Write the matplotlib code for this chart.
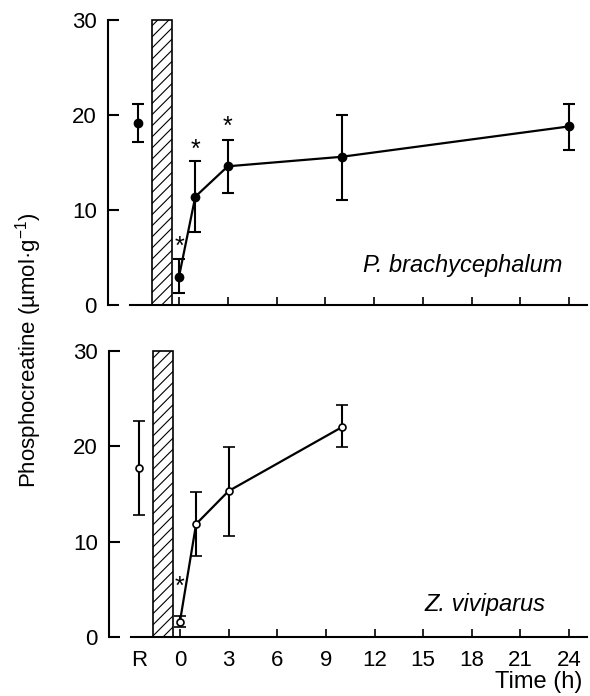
import matplotlib
matplotlib.use("Agg")
import matplotlib.pyplot as plt
import numpy as np

plt.rcParams['font.family'] = ['Liberation Sans', 'DejaVu Sans']
plt.rcParams['mathtext.fontset'] = 'custom'
plt.rcParams['mathtext.rm'] = 'Liberation Sans'
plt.rcParams['mathtext.it'] = 'Liberation Sans:italic'
plt.rcParams['hatch.linewidth'] = 0.8

# Data
R_POS = -2.5
times = [0, 1, 3, 10, 24]
tick_vals = [0, 3, 6, 9, 12, 15, 18, 21, 24]
tick_labels = ['R', '0', '3', '6', '9', '12', '15', '18', '21', '24']

pb_rest, pb_rest_lo, pb_rest_hi = 19.2, 17.2, 21.2
pb_mean = [3.0, 11.4, 14.6, 15.6, 18.8]
pb_lo = [1.3, 7.65, 11.75, 11.1, 16.35]
pb_hi = [4.8, 15.2, 17.4, 20.0, 21.2]
pb_star_t = [0, 1, 3]
pb_star_y = [6.1, 16.3, 18.8]

zv_times = [0, 1, 3, 10]
zv_rest, zv_rest_lo, zv_rest_hi = 17.75, 12.8, 22.6
zv_mean = [1.6, 11.85, 15.3, 22.0]
zv_lo = [1.05, 8.5, 10.6, 19.9]
zv_hi = [2.26, 15.2, 19.95, 24.3]
zv_star_t = [0]
zv_star_y = [5.3]

bar_x0, bar_x1 = -1.65, -0.45

fig = plt.figure(figsize=(5.9, 6.96), dpi=100)
ax1 = fig.add_axes([108/590, 1-305/696, 479/590, 285/696])
ax2 = fig.add_axes([109/590, 1-637.3/696, 478/590, 286.7/696])

def style(ax, show_labels):
    ax.set_xlim(-4.37, 25.1)
    ax.set_ylim(0, 30)
    for s in ['top', 'right']:
        ax.spines[s].set_visible(False)
    ax.spines['bottom'].set_bounds(-3, 25.1)
    ax.spines['left'].set_linewidth(1.5)
    ax.spines['bottom'].set_linewidth(1.5)
    ax.set_yticks([0, 10, 20, 30])
    ax.tick_params(axis='y', direction='in', length=8, width=1.5, labelsize=16, pad=8)
    ax.tick_params(axis='x', direction='in', length=6, width=1.2, labelsize=16, pad=9)
    if show_labels:
        ax.set_xticks([R_POS] + tick_vals)
        ax.set_xticklabels(tick_labels)
        ax.get_xticklines()[0].set_visible(False)
        ax.get_xticklines()[1].set_visible(False)
    else:
        ax.set_xticks(tick_vals)
        ax.set_xticklabels([])
    ax.add_patch(plt.Rectangle((bar_x0, 0), bar_x1-bar_x0, 30, facecolor='white',
                               edgecolor='black', hatch='///', linewidth=1.2, zorder=2,
                               clip_on=False))

style(ax1, False)
style(ax2, True)

ekw = dict(ecolor='black', elinewidth=1.5, capsize=4.5, capthick=1.5, zorder=3)

# top panel
ax1.errorbar([R_POS], [pb_rest], yerr=[[pb_rest-pb_rest_lo], [pb_rest_hi-pb_rest]],
             fmt='o', color='black', markersize=6, **ekw)
ax1.errorbar(times, pb_mean,
             yerr=[np.array(pb_mean)-np.array(pb_lo), np.array(pb_hi)-np.array(pb_mean)],
             fmt='o-', color='black', markersize=6, linewidth=1.6, **ekw)
for t, y in zip(pb_star_t, pb_star_y):
    ax1.text(t, y, '*', ha='center', va='center', fontsize=18)
ax1.text(23.6, 4.2, 'P. brachycephalum', style='italic', ha='right', va='center', fontsize=17)

# bottom panel
ax2.errorbar([R_POS], [zv_rest], yerr=[[zv_rest-zv_rest_lo], [zv_rest_hi-zv_rest]],
             fmt='o', color='black', markerfacecolor='white', markersize=5,
             markeredgewidth=1.2, **ekw)
ax2.errorbar(zv_times, zv_mean,
             yerr=[np.array(zv_mean)-np.array(zv_lo), np.array(zv_hi)-np.array(zv_mean)],
             fmt='o-', color='black', markerfacecolor='white', markersize=5,
             markeredgewidth=1.2, linewidth=1.6, **ekw)
for t, y in zip(zv_star_t, zv_star_y):
    ax2.text(t, y, '*', ha='center', va='center', fontsize=18)
ax2.text(22.55, 3.4, 'Z. viviparus', style='italic', ha='right', va='center', fontsize=17)

fig.text(582/590, 1-682/696, 'Time (h)', ha='right', va='center', fontsize=17)
fig.text(29/590, 1-350/696, 'Phosphocreatine (µmol·g$^{-1}$)', rotation=90,
         ha='center', va='center', fontsize=16)

fig.savefig('out.png', dpi=100)
